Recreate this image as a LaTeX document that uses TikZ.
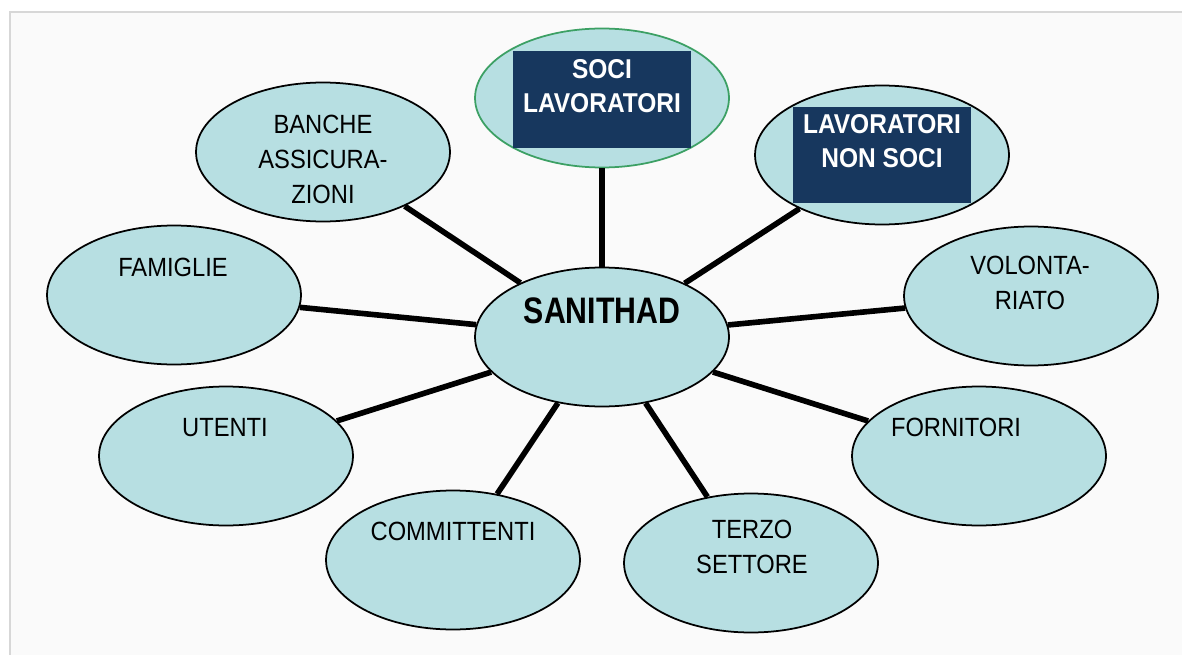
\documentclass[tikz,border=0pt]{standalone}
\usepackage{fontspec}
\newfontfamily\mapfont[FakeStretch=0.9]{Liberation Sans}
\newfontfamily\hubfont[FakeStretch=0.82]{Liberation Sans}
\usepackage{tikz}
\usetikzlibrary{shapes.geometric, positioning}

\definecolor{bubblefill}{RGB}{183,223,226}
\definecolor{navy}{RGB}{23,55,94}
\definecolor{leafgreen}{RGB}{60,160,100}
\definecolor{framegray}{RGB}{215,215,215}
\definecolor{paper}{RGB}{250,250,250}

\begin{document}
\begin{tikzpicture}[x=0.02cm, y=-0.02cm,
  bubble/.style={ellipse, draw=black, line width=1pt, fill=bubblefill,
                 minimum width=5.08cm, minimum height=2.78cm, inner sep=0pt},
  tag/.style={font=\mapfont\fontsize{15}{19.8}\selectfont, align=center,
              anchor=base, inner sep=0pt},
  darktag/.style={tag, font=\mapfont\bfseries\fontsize{15.5}{19.8}\selectfont,
                  text=white},
  navybox/.style={rectangle, fill=navy, minimum width=3.56cm,
                  minimum height=1.94cm, inner sep=0pt},
  spoke/.style={line width=3.2pt}]

% ---- Page and frame ------------------------------------------------------
\useasboundingbox (0,0) rectangle (1182,655);
\fill[paper] (10,12) rectangle (1182,655);
\draw[framegray, line width=1pt] (10,655) -- (10,12) -- (1182,12);

% ---- Bubbles -------------------------------------------------------------
\node[bubble] (hub)    at (602,337) {};
\node[bubble, draw=leafgreen] (soci) at (602,98) {};
\node[bubble] (lns)    at (882,155) {};
\node[bubble] (banche) at (323,152) {};
\node[bubble] (fam)    at (174,295) {};
\node[bubble] (vol)    at (1031,296) {};
\node[bubble] (uten)   at (226,456) {};
\node[bubble] (forn)   at (979,456) {};
\node[bubble] (comm)   at (453,560) {};
\node[bubble] (terzo)  at (751,563) {};

% ---- Spokes --------------------------------------------------------------
\foreach \leaf in {soci, lns, banche, fam, vol, uten, forn, comm, terzo}
  \draw[spoke] (hub) -- (\leaf);

% ---- Labels (base = last line) -------------------------------------------
\node[tag, font=\hubfont\bfseries\fontsize{21}{24}\selectfont]
     (hub-t) at (602,323) {SANITHAD};

\node[navybox] (soci-box) at (602,99.5) {};
\node[darktag] (soci-t) at (602,113) {SOCI\\LAVORATORI};
\node[navybox] (lns-box) at (882,155) {};
\node[darktag] (lns-t) at (882,168) {LAVORATORI\\NON SOCI};

\node[tag] (banche-t) at (323,203) {BANCHE\\ASSICURA-\\ZIONI};
\node[tag] (fam-t)    at (173,276) {FAMIGLIE};
\node[tag] (vol-t)    at (1030,309) {VOLONTA-\\RIATO};
\node[tag] (uten-t)   at (225,436) {UTENTI};
\node[tag] (forn-t)   at (956,436) {FORNITORI};
\node[tag] (comm-t)   at (453,540) {COMMITTENTI};
\node[tag] (terzo-t)  at (752,573) {TERZO\\SETTORE};

\end{tikzpicture}
\end{document}
